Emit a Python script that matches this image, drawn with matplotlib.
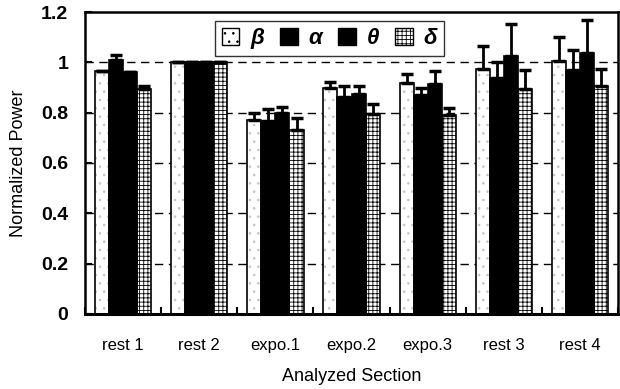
import numpy as np
import matplotlib
matplotlib.use("Agg")
import matplotlib.pyplot as plt
from matplotlib.patches import Patch

plt.rcParams["font.family"] = ["Liberation Sans", "DejaVu Sans"]
plt.rcParams["hatch.linewidth"] = 0.6

# Data
sections = ["rest 1", "rest 2", "expo.1", "expo.2", "expo.3", "rest 3", "rest 4"]
bands = ["β", "α", "θ", "δ"]
beta = [0.964, 1.0, 0.770, 0.900, 0.918, 0.975, 1.004]
alpha = [1.010, 1.0, 0.767, 0.862, 0.869, 0.939, 0.971]
theta = [0.962, 1.0, 0.797, 0.875, 0.915, 1.024, 1.038]
delta = [0.895, 1.0, 0.733, 0.796, 0.790, 0.893, 0.905]
beta_err = [0.0, 0.0, 0.030, 0.022, 0.037, 0.092, 0.096]
alpha_err = [0.018, 0.0, 0.046, 0.043, 0.031, 0.062, 0.077]
theta_err = [0.0, 0.0, 0.026, 0.032, 0.049, 0.129, 0.129]
delta_err = [0.013, 0.0, 0.046, 0.040, 0.030, 0.075, 0.070]

values = [beta, alpha, theta, delta]
errors = [beta_err, alpha_err, theta_err, delta_err]
styles = [
    dict(facecolor="white", hatch="..", edgecolor="#c4c4c4"),
    dict(facecolor="black", hatch=None, edgecolor="black"),
    dict(facecolor="black", hatch=None, edgecolor="black"),
    dict(facecolor="white", hatch="++++", edgecolor="black"),
]

fig = plt.figure(figsize=(6.2, 3.89), dpi=100)
ax = fig.add_axes([0.137, 0.193, 0.86, 0.776])

x = np.arange(len(sections))
width = 0.185
for i, (vals, errs, st) in enumerate(zip(values, errors, styles)):
    pos = x + (i - 1.5) * width
    ax.bar(pos, vals, width, facecolor=st["facecolor"], hatch=st["hatch"],
           edgecolor=st["edgecolor"], linewidth=0, zorder=2)
    ax.bar(pos, vals, width, facecolor="none", edgecolor="black",
           linewidth=1.2, zorder=3)
    ax.errorbar(pos, vals, yerr=[np.zeros(len(errs)), errs], fmt="none",
                ecolor="black", elinewidth=2, capsize=4, capthick=2.5, zorder=4)

ax.set_ylim(0, 1.2)
ax.set_xlim(-0.5, len(sections) - 0.5)
ax.set_yticks([0, 0.2, 0.4, 0.6, 0.8, 1.0, 1.2])
ax.set_yticklabels(["0", "0.2", "0.4", "0.6", "0.8", "1", "1.2"],
                   fontsize=14, fontweight="bold")
ax.set_xticks(x)
ax.set_xticklabels(sections, fontsize=12)
ax.set_xticks(np.arange(len(sections) + 1) - 0.5, minor=True)
ax.tick_params(axis="x", which="major", length=0, pad=17)
ax.tick_params(axis="x", which="minor", direction="in", length=5, width=1.5)
ax.tick_params(axis="y", direction="in", length=5, width=1.5, pad=12)

for yv in [0.2, 0.4, 0.6, 0.8, 1.0]:
    ax.axhline(yv, color="black", linestyle=(0, (6, 4)), linewidth=1.0, zorder=1)

for side in ["left", "right", "top"]:
    ax.spines[side].set_linewidth(1.8)
ax.spines["bottom"].set_linewidth(2.2)

ax.set_ylabel("Normalized Power", fontsize=13, labelpad=10)
ax.set_xlabel("Analyzed Section", fontsize=13, labelpad=11)

handles = [Patch(facecolor=st["facecolor"], hatch=st["hatch"],
                 edgecolor="black", linewidth=1.0) for st in styles]
leg = fig.legend(handles, bands, ncol=4, loc="upper left",
                 bbox_to_anchor=(215 / 620, 1 - 21 / 389),
                 prop=dict(size=16, style="italic", weight="bold"),
                 frameon=True, fancybox=False, edgecolor="black",
                 handlelength=0.8, handleheight=0.8, handletextpad=0.5,
                 columnspacing=0.7, borderpad=0.3, borderaxespad=0)
leg.get_frame().set_linewidth(1.0)

fig.savefig("out.png", dpi=100)
